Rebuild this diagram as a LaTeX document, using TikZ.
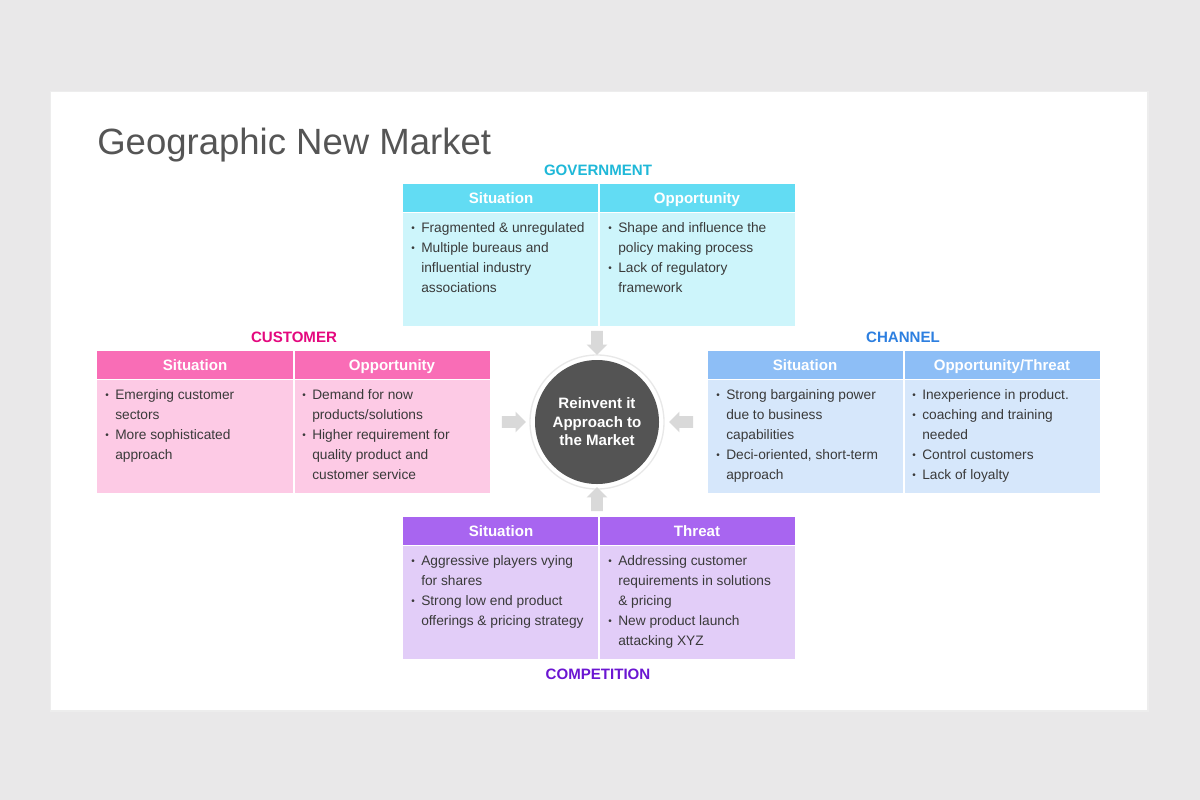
\documentclass[tikz,border=0pt]{standalone}
\usepackage{fontspec}
\setmainfont{Liberation Sans}
\usetikzlibrary{shapes.arrows}
\definecolor{pagebg}{HTML}{E9E8E9}
\definecolor{titlegrey}{HTML}{555555}
\definecolor{txt}{HTML}{3A3A3A}
\definecolor{hubgrey}{HTML}{545454}
\definecolor{arrowgrey}{HTML}{D9D9D9}
\definecolor{govH}{HTML}{62DCF3}
\definecolor{govB}{HTML}{CDF5FB}
\definecolor{govL}{HTML}{1FB8D8}
\definecolor{cusH}{HTML}{F96DB6}
\definecolor{cusB}{HTML}{FDCAE5}
\definecolor{cusL}{HTML}{E4087E}
\definecolor{chaH}{HTML}{8DBEF6}
\definecolor{chaB}{HTML}{D6E7FB}
\definecolor{chaL}{HTML}{2D7FE0}
\definecolor{comH}{HTML}{A865F0}
\definecolor{comB}{HTML}{E2CDF8}
\definecolor{comL}{HTML}{6B16D2}
\newcommand\bu{\makebox[7.5pt][l]{\raisebox{0.05em}{\fontsize{7.5pt}{8pt}\selectfont\textbullet}}\strut}
\newcommand\ind{\hspace*{7.5pt}\strut}
\tikzset{
  bodytext/.style={font=\fontsize{10.3pt}{15pt}\selectfont, text=txt, align=left, inner sep=0pt, anchor=north west},
  hdrtext/.style={font=\bfseries\fontsize{11.3pt}{14pt}\selectfont, text=white, inner sep=0pt, anchor=base},
  cattext/.style={font=\bfseries\fontsize{11.3pt}{14pt}\selectfont, inner sep=0pt, anchor=base},
  barrow/.style={single arrow, fill=arrowgrey, draw=none, inner sep=4.2pt, minimum width=0pt,
     minimum height=24*0.75pt, single arrow head extend=3.3pt},
  divider/.style={white, line width=1.5pt}
}
\begin{document}
\begin{tikzpicture}[x=0.75pt,y=-0.75pt]
\useasboundingbox (0,0) rectangle (1200,800);
\fill[pagebg] (0,0) rectangle (1200,800);
% slide
\fill[black!7] (50,91) rectangle (1149,712);
\fill[white] (51,92) rectangle (1147,710);
\node[anchor=base west, inner sep=0pt, text=titlegrey, font=\fontsize{27.4pt}{32pt}\selectfont] (title) at (97,154) {Geographic New Market};

% ---------- GOVERNMENT ----------
\fill[govH] (403,184) rectangle (795,212);
\fill[govB] (403,212) rectangle (795,326);
\draw[divider] (599,184) -- (599,326);
\draw[white, line width=0.75pt] (403,212) -- (795,212);
\node[cattext, text=govL] (govlabel) at (598,175) {GOVERNMENT};
\node[hdrtext] (govh1) at (501,203) {Situation};
\node[hdrtext] (govh2) at (697,203) {Opportunity};
\node[bodytext] (govb1) at (411,218) {\bu Fragmented \& unregulated\\\bu Multiple bureaus and\\\ind influential industry\\\ind associations};
\node[bodytext] (govb2) at (608,218) {\bu Shape and influence the\\\ind policy making process\\\bu Lack of regulatory\\\ind framework};

% ---------- CUSTOMER ----------
\fill[cusH] (97,351) rectangle (490,379);
\fill[cusB] (97,379) rectangle (490,493);
\draw[divider] (294,351) -- (294,493);
\draw[white, line width=0.75pt] (97,379) -- (490,379);
\node[cattext, text=cusL] (cuslabel) at (294,342) {CUSTOMER};
\node[hdrtext] (cush1) at (195,370) {Situation};
\node[hdrtext] (cush2) at (392,370) {Opportunity};
\node[bodytext] (cusb1) at (105,385) {\bu Emerging customer\\\ind sectors\\\bu More sophisticated\\\ind approach};
\node[bodytext] (cusb2) at (302,385) {\bu Demand for now\\\ind products/solutions\\\bu Higher requirement for\\\ind quality product and\\\ind customer service};

% ---------- CHANNEL ----------
\fill[chaH] (708,351) rectangle (1100,379);
\fill[chaB] (708,379) rectangle (1100,493);
\draw[divider] (904,351) -- (904,493);
\draw[white, line width=0.75pt] (708,379) -- (1100,379);
\node[cattext, text=chaL] (chalabel) at (903,342) {CHANNEL};
\node[hdrtext] (chah1) at (805,370) {Situation};
\node[hdrtext] (chah2) at (1002,370) {Opportunity/Threat};
\node[bodytext] (chab1) at (716,385) {\bu Strong bargaining power\\\ind due to business\\\ind capabilities\\\bu Deci-oriented, short-term\\\ind approach};
\node[bodytext] (chab2) at (912,385) {\bu Inexperience in product.\\\bu coaching and training\\\ind needed\\\bu Control customers\\\bu Lack of loyalty};

% ---------- COMPETITION ----------
\fill[comH] (403,517) rectangle (795,545);
\fill[comB] (403,545) rectangle (795,659);
\draw[divider] (599,517) -- (599,659);
\draw[white, line width=0.75pt] (403,545) -- (795,545);
\node[cattext, text=comL] (comlabel) at (598,679) {COMPETITION};
\node[hdrtext] (comh1) at (501,536) {Situation};
\node[hdrtext] (comh2) at (697,536) {Threat};
\node[bodytext] (comb1) at (411,551) {\bu Aggressive players vying\\\ind for shares\\\bu Strong low end product\\\ind offerings \& pricing strategy};
\node[bodytext] (comb2) at (608,551) {\bu Addressing customer\\\ind requirements in solutions\\\ind \& pricing\\\bu New product launch\\\ind attacking XYZ};

% ---------- HUB ----------
\node[circle, fill=white, draw=black!9, line width=1pt, minimum size=134*0.75pt, inner sep=0pt] (hubring) at (597,422) {};
\node[circle, fill=hubgrey, minimum size=124*0.75pt, inner sep=0pt, align=center, text=white,
      font=\bfseries\fontsize{11.3pt}{13.9pt}\selectfont] (hub) at (597,422) {Reinvent it\\Approach to\\the Market};

% ---------- ARROWS ----------
\node[barrow, shape border rotate=270] (agov) at (597,340) {};
\node[barrow, shape border rotate=90] (acom) at (597,502) {};
\node[barrow, shape border rotate=0] (acus) at (511,422) {};
\node[barrow, shape border rotate=180] (acha) at (684,422) {};
\end{tikzpicture}
\end{document}
